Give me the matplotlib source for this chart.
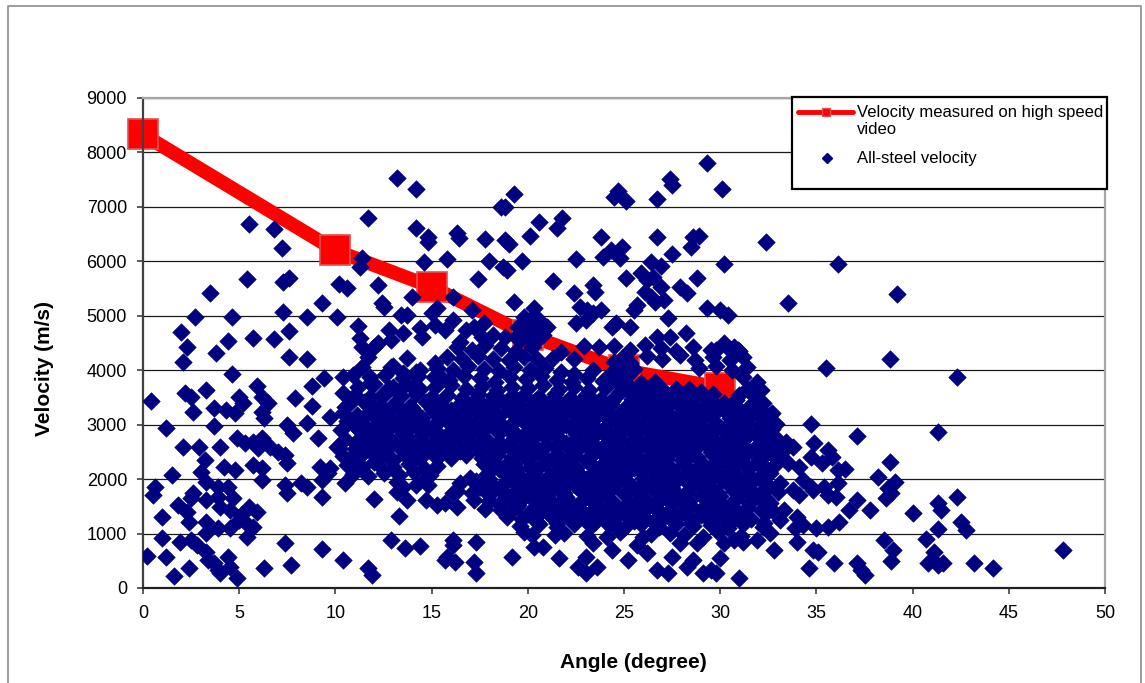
import matplotlib
matplotlib.use("Agg")
import matplotlib.pyplot as plt
from matplotlib.patches import Rectangle
from matplotlib.lines import Line2D

plt.rcParams['font.family'] = ['Liberation Sans', 'DejaVu Sans']

# ---------------- data ----------------
video_angle = [0, 10, 15, 20, 25, 30]
video_velocity = [8330, 6200, 5530, 4650, 4000, 3680]

x_ticks = [0, 5, 10, 15, 20, 25, 30, 35, 40, 45, 50]
y_ticks = [0, 1000, 2000, 3000, 4000, 5000, 6000, 7000, 8000, 9000]

# all-steel velocity points (angle, velocity), by region
pts_left = [
    (0.2, 590), (0.4, 3440), (0.6, 1860), (0.5, 1710), (1.2, 2940), (1.2, 570), (1.0, 1300), (1.0, 920),
    (1.5, 2080), (1.6, 220), (1.8, 1520), (1.9, 850), (2.0, 4700), (2.1, 4150), (2.3, 4430), (2.2, 3580),
    (2.5, 3510), (2.1, 2590), (2.3, 1400), (2.4, 1210), (2.4, 370), (2.5, 880), (2.5, 1650), (2.6, 1750),
    (2.6, 3230), (2.7, 4980), (2.8, 790), (2.9, 2590), (3.0, 2130), (3.2, 2350), (3.3, 3640), (3.3, 1950),
    (3.3, 1620), (3.3, 1210), (3.3, 1010), (3.3, 660), (3.4, 510), (3.5, 5420), (3.7, 3310), (3.7, 2980),
    (3.7, 460), (3.8, 4320), (3.9, 1860), (3.9, 1670), (3.9, 1100), (3.9, 330), (4.0, 2590), (4.0, 1490),
    (4.0, 280), (4.2, 2220), (4.3, 3270), (4.4, 4540), (4.4, 1860), (4.4, 570), (4.5, 1430), (4.5, 1100),
    (4.5, 390), (4.6, 4980), (4.6, 3930), (4.7, 1650), (4.8, 3210), (4.8, 2170), (4.9, 2760), (4.9, 180),
    (5.0, 3510), (5.0, 1250), (5.1, 1340), (5.2, 3400), (5.3, 2660), (5.3, 1210), (5.4, 5680), (5.4, 940),
    (5.5, 6690), (5.5, 1490), (5.7, 4590), (5.7, 2680), (5.7, 2260), (5.7, 1120), (5.9, 3710), (5.9, 1400),
    (6.0, 2570), (6.2, 3510), (6.2, 3230), (6.2, 2760), (6.2, 2200), (6.2, 1980), (6.3, 3120), (6.3, 370),
    (6.5, 3400), (6.6, 2590), (6.8, 6590), (6.8, 4570), (7.0, 2500), (7.2, 6250), (7.3, 5620), (7.3, 5070),
    (7.4, 2440), (7.4, 1890), (7.4, 830), (7.5, 2990), (7.5, 2300), (7.5, 1750), (7.6, 5690), (7.6, 4720),
    (7.6, 4240), (7.7, 420), (7.8, 2850), (7.9, 3490), (8.2, 1930), (8.5, 4980), (8.5, 4210), (8.5, 3030),
    (8.5, 1860), (8.8, 3710), (8.8, 3340), (9.1, 2760), (9.2, 2220), (9.3, 5240), (9.3, 1980), (9.3, 1670),
    (9.3, 720), (9.4, 3860), (9.6, 2110), (9.7, 3140), (9.7, 2200),
]

pts_mid = [
    (10.1, 2590), (10.1, 4980), (10.2, 5580), (10.4, 3880), (10.4, 3580), (10.4, 510), (10.5, 3330),
    (10.5, 1930), (10.6, 5510), (10.8, 2390), (10.9, 3910), (11.3, 2630), (11.2, 4810), (11.3, 4590),
    (11.4, 6060), (11.3, 5900), (11.4, 4060), (11.4, 4430), (11.7, 6800), (11.7, 4240), (11.7, 370),
    (11.8, 3770), (11.9, 240), (12.0, 4430), (12.0, 1630), (12.2, 4500), (12.2, 5570), (12.4, 3550),
    (12.4, 5240), (12.5, 5160), (12.8, 4740), (12.9, 4560), (12.9, 4060), (12.9, 880), (13.0, 3690),
    (13.2, 7530), (13.2, 1760), (13.3, 1320), (13.4, 5020), (13.5, 4680), (13.5, 3950), (13.5, 1860),
    (13.6, 730), (13.7, 5020), (13.7, 4230), (13.7, 1620), (14.0, 5350), (14.0, 3690), (14.2, 7330),
    (14.2, 6610), (14.2, 3970), (14.4, 4780), (14.4, 4000), (14.4, 770), (14.5, 4610), (14.6, 5990),
    (14.6, 1980), (14.7, 1620), (14.8, 6450), (14.8, 6360), (14.8, 1890), (15.0, 5050), (15.2, 4830),
    (15.2, 4130), (15.3, 5140), (15.3, 1520), (15.5, 3880), (15.7, 4740), (15.7, 1560), (15.7, 510),
    (15.8, 6040), (15.8, 570), (16.3, 6520), (16.4, 6420), (16.1, 5350), (16.1, 4920), (16.1, 880),
    (16.1, 790), (16.2, 480), (16.3, 1490), (16.1, 1750), (16.5, 4520), (16.8, 4740), (17.1, 5110),
    (17.2, 4790), (17.2, 480), (17.3, 850), (17.3, 280), (17.4, 5680), (17.6, 4610), (17.7, 4870),
    (17.8, 6410),
]

pts_upper = [
    (18.0, 6000), (18.2, 4650), (18.6, 7000), (18.8, 7000), (18.7, 5900), (18.8, 6390), (18.8, 4610),
    (18.9, 5840), (19.0, 6320), (19.3, 7240), (19.3, 5250), (19.4, 4610), (19.7, 6000), (19.8, 4980),
    (20.1, 6470), (20.1, 4920), (20.3, 5140), (20.6, 6720), (20.6, 4920), (21.0, 4790), (21.3, 5640),
    (21.5, 6610), (21.8, 6800), (22.4, 5420), (22.5, 6040), (22.5, 4870), (22.7, 5160), (23.0, 4920),
    (23.1, 5110), (23.4, 5570), (23.4, 5050), (23.5, 5440), (23.8, 6450), (23.8, 5110), (23.9, 6080),
    (24.3, 6210), (24.4, 4790), (24.5, 7180), (24.6, 4870), (24.7, 7290), (24.8, 6060), (24.9, 6260),
    (25.1, 7110), (25.1, 5690), (25.3, 4790), (25.5, 5110), (25.7, 5200), (25.9, 5790), (26.1, 5440),
    (26.2, 5660), (26.4, 5990), (26.4, 5350), (26.5, 5710), (26.6, 5250), (26.7, 7150), (26.7, 6450),
    (26.7, 4610), (26.9, 5920), (26.9, 5530), (27.1, 5290), (27.3, 4960), (27.4, 7510), (27.5, 7400),
    (27.4, 4610), (27.5, 6140), (27.9, 5530), (28.2, 4680), (28.3, 5420), (28.5, 6260), (28.6, 6450),
    (28.8, 5690), (28.9, 6470), (29.3, 7810), (29.3, 5140), (30.0, 5110), (30.1, 7330), (30.2, 5950),
    (30.2, 4500), (30.4, 5020), (30.7, 4430), (30.9, 4370), (29.8, 4370), (32.4, 6360), (33.5, 5240),
    (36.1, 5950), (39.2, 5400),
]

pts_on_line = [
    (19.5, 4790), (20.3, 4760), (19.6, 4560), (20.4, 4520), (19.9, 4660), (20.8, 4640),
    (22.9, 4450), (23.7, 4420), (24.5, 4150), (25.3, 4130), (24.4, 3970), (25.1, 3880),
    (24.9, 4030), (25.9, 3760), (26.6, 3790), (28.4, 3660), (29.0, 3600), (21.7, 4330),
    (22.4, 4200), (23.4, 4000), (24.6, 3870), (25.5, 4020), (25.1, 4230), (24.8, 3980),
    (26.1, 3700), (26.9, 3680), (27.7, 3660), (28.2, 3520), (27.3, 3480), (29.6, 3560),
]

core_upper = [
    (16.3, 4430), (17.1, 4370), (17.8, 4460), (18.6, 4400), (19.4, 4350), (20.2, 4420), (24.5, 4440),
    (25.3, 4380), (26.1, 4470), (26.9, 4400), (27.7, 4350), (28.6, 4430), (29.5, 4380), (30.3, 4450),
    (31.0, 4360),
    (15.8, 4240), (16.6, 4200), (17.4, 4270), (18.2, 4210), (19.0, 4180), (19.8, 4250), (20.5, 4200),
    (21.3, 4230), (24.9, 4220), (26.2, 4260), (27.0, 4210), (27.9, 4280), (28.7, 4190), (29.6, 4240),
    (30.5, 4180), (31.2, 4250),
    (13.0, 4080), (15.3, 4050), (16.1, 4000), (16.9, 4070), (17.7, 4030), (18.5, 3980), (19.3, 4060),
    (20.1, 4010), (20.9, 4040), (21.7, 3970), (22.4, 3930), (28.9, 4040), (29.8, 4080), (30.6, 4000),
    (31.4, 4060),
    (11.8, 3880), (12.6, 3920), (13.5, 3850), (14.3, 3900), (15.1, 3870), (15.9, 3820), (16.7, 3900),
    (17.5, 3850), (18.3, 3790), (19.1, 3870), (19.9, 3830), (20.7, 3890), (21.5, 3820), (22.3, 3790),
    (23.1, 3850), (23.9, 3800), (24.7, 3760), (25.3, 3700), (31.2, 3870), (31.9, 3780),
    (11.2, 3700), (12.0, 3740), (12.8, 3680), (13.6, 3720), (14.4, 3650), (15.2, 3700), (16.0, 3730),
    (16.8, 3660), (17.6, 3710), (18.4, 3640), (19.2, 3700), (20.0, 3670), (20.8, 3730), (21.6, 3650),
    (22.4, 3690), (23.2, 3630), (24.0, 3680), (24.8, 3600), (25.6, 3650), (26.3, 3580), (27.1, 3560),
    (27.9, 3590), (28.7, 3540), (31.4, 3650),
    (11.0, 3540), (11.8, 3500), (12.6, 3560), (13.4, 3520), (14.2, 3570), (15.0, 3500), (15.8, 3550),
    (16.6, 3490), (17.4, 3560), (18.2, 3520), (19.0, 3480), (19.8, 3550), (20.6, 3500), (21.4, 3560),
    (22.2, 3490), (23.0, 3540), (23.8, 3470), (24.6, 3530), (25.4, 3560), (26.2, 3500), (27.0, 3560),
    (27.8, 3520), (28.6, 3480), (29.4, 3440), (30.2, 3400), (31.0, 3540), (31.8, 3500),
    (10.7, 3380), (11.5, 3420), (12.3, 3360), (13.1, 3400), (13.9, 3340), (14.7, 3410), (15.5, 3370),
    (16.3, 3330), (17.1, 3400), (17.9, 3350), (18.7, 3410), (19.5, 3360), (20.3, 3320), (21.1, 3390),
    (21.9, 3350), (22.7, 3410), (23.5, 3340), (24.3, 3380), (25.1, 3330), (25.9, 3400), (26.7, 3350),
    (27.5, 3410), (28.3, 3360), (29.1, 3320), (29.9, 3330), (30.7, 3370), (31.5, 3330), (32.2, 3390),
]

core_lower = [
    (10.4, 3220), (11.1, 3180), (11.9, 3250), (12.7, 3200), (13.5, 3240), (14.3, 3170), (15.1, 3230),
    (15.9, 3190), (16.7, 3250), (17.5, 3180), (18.3, 3220), (19.1, 3260), (19.9, 3190), (20.7, 3230),
    (21.5, 3170), (22.3, 3240), (23.1, 3200), (23.9, 3250), (24.7, 3180), (25.5, 3220), (26.3, 3170),
    (27.1, 3240), (27.9, 3200), (28.7, 3260), (29.5, 3190), (30.3, 3230), (31.1, 3170), (31.9, 3240),
    (32.6, 3180),
    (10.6, 3060), (11.4, 3030), (12.2, 3090), (13.0, 3040), (13.8, 3080), (14.6, 3020), (15.4, 3070),
    (16.2, 3100), (17.0, 3030), (17.8, 3070), (18.6, 3010), (19.4, 3080), (20.2, 3040), (21.0, 3090),
    (21.8, 3020), (22.6, 3060), (23.4, 3000), (24.2, 3080), (25.0, 3030), (25.8, 3090), (26.6, 3020),
    (27.4, 3070), (28.2, 3040), (29.0, 3100), (29.8, 3020), (30.6, 3070), (31.4, 3030), (32.2, 3080),
    (32.9, 3010),
    (10.3, 2900), (11.1, 2940), (11.9, 2870), (12.7, 2920), (13.5, 2860), (14.3, 2930), (15.1, 2880),
    (15.9, 2850), (16.7, 2920), (17.5, 2870), (18.3, 2940), (19.1, 2880), (19.9, 2850), (20.7, 2920),
    (21.5, 2880), (22.3, 2940), (23.1, 2860), (23.9, 2910), (24.7, 2870), (25.5, 2940), (26.3, 2880),
    (27.1, 2850), (27.9, 2920), (28.7, 2870), (29.5, 2930), (30.3, 2860), (31.1, 2910), (31.9, 2850),
    (32.7, 2920),
    (10.5, 2740), (11.3, 2700), (12.1, 2760), (12.9, 2720), (13.7, 2780), (14.5, 2700), (15.3, 2750),
    (16.1, 2710), (16.9, 2770), (17.7, 2720), (18.5, 2690), (19.3, 2760), (20.1, 2720), (20.9, 2780),
    (21.7, 2700), (22.5, 2740), (23.3, 2690), (24.1, 2770), (24.9, 2720), (25.7, 2760), (26.5, 2700),
    (27.3, 2750), (28.1, 2710), (28.9, 2770), (29.7, 2720), (30.5, 2680), (31.3, 2750), (32.1, 2710),
    (32.9, 2760), (33.4, 2680),
    (10.2, 2580), (11.0, 2550), (11.8, 2610), (12.6, 2560), (13.4, 2600), (14.2, 2540), (15.0, 2590),
    (15.8, 2620), (16.6, 2560), (17.4, 2600), (18.2, 2540), (19.0, 2610), (19.8, 2570), (20.6, 2530),
    (21.4, 2600), (22.2, 2560), (23.0, 2620), (23.8, 2550), (24.6, 2590), (25.4, 2540), (26.2, 2610),
    (27.0, 2560), (27.8, 2600), (28.6, 2530), (29.4, 2590), (30.2, 2550), (31.0, 2610), (31.8, 2560),
    (32.6, 2600), (33.3, 2530),
    (10.4, 2420), (11.2, 2380), (12.0, 2440), (12.8, 2400), (13.6, 2450), (14.4, 2390), (15.2, 2430),
    (16.0, 2380), (16.8, 2440), (17.6, 2390), (18.4, 2450), (19.2, 2400), (20.0, 2370), (20.8, 2430),
    (21.6, 2390), (22.4, 2450), (23.2, 2380), (24.0, 2420), (24.8, 2460), (25.6, 2390), (26.4, 2430),
    (27.2, 2370), (28.0, 2440), (28.8, 2400), (29.6, 2450), (30.4, 2380), (31.2, 2420), (32.0, 2370),
    (32.8, 2430),
    (10.6, 2260), (11.4, 2220), (12.2, 2280), (13.0, 2230), (13.8, 2270), (14.6, 2210), (15.3, 2250),
    (17.7, 2280), (18.5, 2230), (19.3, 2270), (20.1, 2220), (20.9, 2290), (21.7, 2240), (22.5, 2200),
    (23.3, 2270), (24.1, 2230), (24.9, 2290), (25.7, 2220), (26.5, 2260), (27.3, 2210), (28.1, 2280),
    (28.9, 2230), (29.7, 2270), (30.5, 2210), (31.3, 2260), (32.1, 2220), (32.9, 2280),
    (10.9, 2100), (11.7, 2060), (12.5, 2120), (13.3, 2080), (14.1, 2130), (14.9, 2070), (17.9, 2090),
    (18.7, 2130), (19.5, 2070), (20.3, 2110), (21.1, 2050), (21.9, 2120), (22.7, 2080), (23.5, 2130),
    (24.3, 2060), (25.1, 2100), (25.9, 2140), (26.7, 2070), (27.5, 2110), (28.3, 2060), (29.1, 2120),
    (29.9, 2080), (30.7, 2130), (31.5, 2070), (32.3, 2110),
    (13.2, 1950), (14.2, 1900), (16.5, 1930), (17.3, 1970), (18.1, 1910), (18.9, 1960), (19.7, 1900),
    (20.5, 1940), (21.3, 1980), (22.1, 1920), (22.9, 1960), (23.7, 1900), (24.5, 1950), (25.3, 1910),
    (26.1, 1970), (26.9, 1920), (27.7, 1960), (28.5, 1900), (29.3, 1940), (30.1, 1980), (30.9, 1920),
    (31.7, 1960), (32.5, 1900),
    (16.3, 1780), (17.1, 1750), (17.9, 1800), (18.7, 1760), (19.5, 1810), (20.3, 1740), (21.1, 1790),
    (21.9, 1750), (22.7, 1800), (23.5, 1760), (24.3, 1820), (25.1, 1750), (25.9, 1790), (26.7, 1740),
    (27.5, 1800), (28.3, 1760), (29.1, 1810), (29.9, 1740), (30.7, 1790), (31.5, 1750), (32.3, 1800),
    (33.0, 1760),
    (17.2, 1620), (18.0, 1590), (18.8, 1640), (19.6, 1600), (20.4, 1650), (21.2, 1580), (22.0, 1630),
    (22.8, 1590), (23.6, 1640), (24.4, 1600), (25.2, 1570), (26.0, 1630), (26.8, 1590), (27.6, 1650),
    (28.4, 1600), (29.2, 1640), (30.0, 1580), (30.8, 1630), (31.6, 1590), (32.4, 1640),
    (17.8, 1460), (18.6, 1430), (19.4, 1480), (20.2, 1440), (21.0, 1490), (21.8, 1420), (22.6, 1470),
    (23.4, 1430), (24.2, 1480), (25.0, 1440), (25.8, 1410), (26.6, 1470), (27.4, 1430), (28.2, 1490),
    (29.0, 1440), (29.8, 1480), (30.6, 1420), (31.4, 1470), (32.1, 1430),
    (18.9, 1300), (19.7, 1270), (20.5, 1320), (21.3, 1280), (22.1, 1330), (22.9, 1260), (23.7, 1310),
    (24.5, 1270), (25.3, 1320), (26.1, 1280), (26.9, 1250), (27.7, 1310), (28.5, 1270), (29.3, 1320),
    (30.1, 1280), (30.9, 1310), (31.6, 1260),
    (19.6, 1140), (20.6, 1170), (21.5, 1120), (22.4, 1180), (23.3, 1130), (24.2, 1160), (25.0, 1100),
    (25.9, 1170), (26.8, 1120), (27.7, 1180), (28.6, 1130), (29.5, 1160), (30.4, 1110), (31.2, 1170),
    (20.2, 980), (21.9, 1010), (23.1, 960), (24.8, 1020), (26.4, 990), (28.1, 970), (29.9, 1020),
    (31.1, 960),
]

core_fill_upper = [
    (17.4, 3460), (18.4, 3430), (19.4, 3480), (20.4, 3440), (21.4, 3470), (22.4, 3420), (23.4, 3460),
    (24.4, 3440), (25.4, 3480), (26.4, 3430), (27.4, 3460), (28.4, 3420), (30.8, 3450),
    (12.0, 3300), (13.0, 3280), (14.0, 3310), (15.0, 3290), (16.0, 3270), (17.0, 3310), (18.0, 3290),
    (19.0, 3320), (20.0, 3280), (21.0, 3300), (22.0, 3270), (23.0, 3310), (24.0, 3290), (25.0, 3260),
    (26.0, 3300), (27.0, 3280), (28.0, 3310), (29.0, 3270), (30.0, 3300), (31.0, 3280), (32.0, 3300),
    (11.5, 3140), (12.5, 3120), (13.5, 3150), (14.5, 3130), (15.5, 3110), (16.5, 3150), (17.5, 3130),
    (18.5, 3160), (19.5, 3120), (20.5, 3140), (21.5, 3110), (22.5, 3150), (23.5, 3130), (24.5, 3100),
    (25.5, 3140), (26.5, 3120), (27.5, 3150), (28.5, 3110), (29.5, 3140), (30.5, 3120), (31.5, 3150),
    (32.5, 3130),
    (11.0, 2980), (12.0, 2960), (13.0, 2990), (14.0, 2970), (15.0, 2950), (16.0, 2990), (17.0, 2970),
    (18.0, 3000), (19.0, 2960), (20.0, 2980), (21.0, 2950), (22.0, 2990), (23.0, 2970), (24.0, 2940),
    (25.0, 2980), (26.0, 2960), (27.0, 2990), (28.0, 2950), (29.0, 2980), (30.0, 2960), (31.0, 2990),
    (32.0, 2970),
    (11.5, 2820), (12.5, 2800), (13.5, 2830), (14.5, 2810), (15.5, 2790), (16.5, 2830), (17.5, 2810),
    (18.5, 2840), (19.5, 2800), (20.5, 2820), (21.5, 2790), (22.5, 2830), (23.5, 2810), (24.5, 2780),
    (25.5, 2820), (26.5, 2800), (27.5, 2830), (28.5, 2790), (29.5, 2820), (30.5, 2800), (31.5, 2830),
    (32.5, 2810),
    (11.0, 2660), (12.0, 2640), (13.0, 2670), (14.0, 2650), (15.0, 2630), (16.0, 2670), (17.0, 2650),
    (18.0, 2680), (19.0, 2640), (20.0, 2660), (21.0, 2630), (22.0, 2670), (23.0, 2650), (24.0, 2620),
    (25.0, 2660), (26.0, 2640), (27.0, 2670), (28.0, 2630), (29.0, 2660), (30.0, 2640), (31.0, 2670),
    (32.0, 2650), (33.0, 2620),
]

core_fill_lower = [
    (11.5, 2500), (12.5, 2480), (13.5, 2510), (14.5, 2490), (15.5, 2470), (16.5, 2510), (17.5, 2490),
    (18.5, 2520), (19.5, 2480), (20.5, 2500), (21.5, 2470), (22.5, 2510), (23.5, 2490), (24.5, 2460),
    (25.5, 2500), (26.5, 2480), (27.5, 2510), (28.5, 2470), (29.5, 2500), (30.5, 2480), (31.5, 2510),
    (32.5, 2490),
    (11.0, 2340), (12.0, 2320), (13.0, 2350), (14.0, 2330), (18.0, 2340), (19.0, 2320), (20.0, 2350),
    (21.0, 2310), (22.0, 2340), (23.0, 2360), (24.0, 2320), (25.0, 2350), (26.0, 2330), (27.0, 2310),
    (28.0, 2350), (29.0, 2320), (30.0, 2340), (31.0, 2360), (32.0, 2330),
    (18.5, 2180), (19.5, 2160), (20.5, 2190), (21.5, 2170), (22.5, 2150), (23.5, 2190), (24.5, 2170),
    (25.5, 2200), (26.5, 2160), (27.5, 2180), (28.5, 2150), (29.5, 2190), (30.5, 2170), (31.5, 2200),
    (32.5, 2160),
    (17.0, 2020), (18.0, 2000), (19.0, 2030), (20.0, 2010), (21.0, 1990), (22.0, 2030), (23.0, 2010),
    (24.0, 2040), (25.0, 2000), (26.0, 2020), (27.0, 1990), (28.0, 2030), (29.0, 2010), (30.0, 2040),
    (31.0, 2000), (32.0, 2020),
    (17.5, 1860), (18.5, 1840), (19.5, 1870), (20.5, 1850), (21.5, 1830), (22.5, 1870), (23.5, 1850),
    (24.5, 1880), (25.5, 1840), (26.5, 1860), (27.5, 1830), (28.5, 1870), (29.5, 1850), (30.5, 1880),
    (31.5, 1840), (32.5, 1860),
    (18.0, 1700), (19.0, 1680), (20.0, 1710), (21.0, 1690), (22.0, 1670), (23.0, 1710), (24.0, 1690),
    (25.0, 1720), (26.0, 1680), (27.0, 1700), (28.0, 1670), (29.0, 1710), (30.0, 1690), (31.0, 1720),
    (32.0, 1680),
    (18.5, 1540), (19.5, 1520), (20.5, 1550), (21.5, 1530), (22.5, 1510), (23.5, 1550), (24.5, 1530),
    (25.5, 1560), (26.5, 1520), (27.5, 1540), (28.5, 1510), (29.5, 1550), (30.5, 1530), (31.5, 1560),
    (19.0, 1380), (20.0, 1360), (21.0, 1390), (22.0, 1370), (23.0, 1350), (24.0, 1390), (25.0, 1370),
    (26.0, 1400), (27.0, 1360), (28.0, 1380), (29.0, 1350), (30.0, 1390), (31.0, 1370),
    (20.5, 1220), (21.5, 1200), (22.5, 1230), (23.5, 1210), (24.5, 1190), (25.5, 1230), (26.5, 1210),
    (27.5, 1240), (28.5, 1200), (29.5, 1220), (30.5, 1190),
]

pts_low = [
    (19.2, 570), (19.8, 1030), (20.3, 750), (20.8, 750), (21.4, 970), (21.6, 550), (22.6, 390),
    (23.0, 280), (23.0, 570), (23.6, 390), (23.4, 830), (24.1, 940), (24.4, 700), (25.2, 510),
    (25.7, 790), (26.0, 940), (26.2, 640), (26.7, 330), (27.3, 280), (27.5, 570), (27.4, 1010),
    (27.9, 830), (28.3, 390), (28.6, 510), (29.1, 280), (29.5, 330), (29.8, 280), (28.8, 830),
    (29.1, 940), (30.0, 550), (30.2, 830), (30.7, 880), (31.2, 850), (31.0, 180), (31.9, 880),
    (32.2, 1120),
]

pts_right = [
    (31.8, 3640), (32.1, 3640), (32.7, 3210), (32.5, 3030), (32.4, 2900), (32.7, 2760), (32.2, 2540),
    (33.0, 2350), (33.5, 2300), (32.6, 2110), (33.1, 1930), (34.1, 2220), (34.3, 1980), (34.7, 1860),
    (33.8, 1800), (34.1, 1710), (34.8, 1800), (35.4, 1860), (36.1, 1930), (35.6, 1710), (36.0, 1670),
    (32.1, 1750), (32.6, 1560), (32.4, 1380), (32.7, 1430), (33.1, 1250), (33.3, 1430), (32.3, 1190),
    (32.6, 1010), (33.8, 2590), (34.9, 2660), (34.7, 2410), (35.6, 2540), (35.8, 2410), (35.3, 2300),
    (36.5, 2190), (36.1, 2170), (34.7, 3010), (37.1, 2790), (41.3, 2870), (38.8, 4210), (35.5, 4040),
    (42.3, 3880), (38.8, 2320), (38.2, 2040), (39.1, 1950), (38.7, 1840), (38.9, 1750), (38.6, 1650),
    (34.0, 1300), (33.9, 1100), (34.3, 1160), (35.0, 1100), (35.6, 1120), (36.2, 1210), (36.7, 1430),
    (37.1, 1620), (37.8, 1430), (32.8, 700), (34.0, 850), (34.8, 700), (35.1, 660), (34.6, 370),
    (35.9, 460), (37.1, 460), (37.3, 330), (37.5, 240), (38.5, 880), (39.0, 700), (38.9, 500),
    (40.0, 1380), (41.3, 1560), (41.5, 1430), (41.3, 1080), (40.7, 900), (42.3, 1670), (42.5, 1210),
    (42.8, 1070), (41.1, 660), (40.8, 460), (41.3, 420), (41.6, 460), (43.2, 460), (44.2, 370),
    (47.8, 700),
]

all_steel = (pts_left + pts_mid + pts_upper + pts_on_line + core_upper + core_lower
             + core_fill_upper + core_fill_lower + pts_low + pts_right)
steel_angle = [p[0] for p in all_steel]
steel_velocity = [p[1] for p in all_steel]

# ---------------- figure ----------------
W, H = 1145, 683
fig = plt.figure(figsize=(W / 100, H / 100), dpi=100)
fig.patch.set_facecolor('white')

ax = fig.add_axes([143 / W, 1 - 588 / H, (1105 - 143) / W, (588 - 98) / H])
ax.set_xlim(0, 50)
ax.set_ylim(0, 9000)
ax.set_xticks(x_ticks)
ax.set_yticks(y_ticks)
ax.set_xticklabels([str(t) for t in x_ticks])
ax.set_yticklabels([str(t) for t in y_ticks])

ax.yaxis.grid(True, color='#1a1a1a', linewidth=0.9)
ax.set_axisbelow(True)

for side in ['top', 'right']:
    ax.spines[side].set_color('#a6a6a6')
    ax.spines[side].set_linewidth(1.6)
ax.spines['left'].set_color('#404040')
ax.spines['left'].set_linewidth(1.6)
ax.spines['bottom'].set_color('#202020')
ax.spines['bottom'].set_linewidth(1.6)

ax.tick_params(axis='both', direction='out', length=4.5, width=1.1, color='#303030',
               labelsize=13, labelcolor='black')
ax.tick_params(axis='x', pad=8)
ax.tick_params(axis='y', pad=7)

ax.plot(video_angle, video_velocity, color='#ff0000', linewidth=10, solid_joinstyle='round',
        marker='s', markersize=21, markerfacecolor='#ff0000', markeredgecolor='#e05050',
        markeredgewidth=1.2, zorder=2, clip_on=False)

ax.scatter(steel_angle, steel_velocity, marker='D', s=80, color='#000080',
           edgecolors='#000080', linewidths=0.4, zorder=3)

ax.set_xlabel('Angle (degree)', fontsize=15, fontweight='bold')
ax.set_ylabel('Velocity (m/s)', fontsize=15, fontweight='bold')
ax.xaxis.set_label_coords((633 - 143) / 962, (588 - 662) / 490)
ax.xaxis.label.set_va('center')
ax.yaxis.set_label_coords((45 - 143) / 962, (588 - 368) / 490)
ax.yaxis.label.set_va('center')

# legend box (drawn by hand to match the original frame)
def fx(px):
    return px / W

def fy(py):
    return 1 - py / H

fig.add_artist(Rectangle((fx(792), fy(189)), fx(1107) - fx(792), fy(97) - fy(189),
                         transform=fig.transFigure, facecolor='white', edgecolor='black',
                         linewidth=1.6, zorder=10))
fig.add_artist(Line2D([fx(798), fx(853)], [fy(112), fy(112)], transform=fig.transFigure,
                      color='#ff0000', linewidth=3.5, solid_capstyle='round', zorder=11))
fig.add_artist(Line2D([fx(826)], [fy(112)], transform=fig.transFigure, marker='s',
                      markersize=6, markerfacecolor='#ff0000', markeredgecolor='#e05050',
                      linestyle='none', zorder=12))
fig.add_artist(Line2D([fx(827)], [fy(158)], transform=fig.transFigure, marker='D',
                      markersize=5, markerfacecolor='#000080', markeredgecolor='#000080',
                      linestyle='none', zorder=12))
fig.text(fx(857), fy(112), 'Velocity measured on high speed', fontsize=12, va='center',
         ha='left', zorder=12)
fig.text(fx(857), fy(130), 'video', fontsize=12, va='center', ha='left', zorder=12)
fig.text(fx(857), fy(158), 'All-steel velocity', fontsize=12, va='center', ha='left', zorder=12)

# outer chart frame
frame_kw = dict(transform=fig.transFigure, color='#8c8c8c', linewidth=1.2, zorder=1)
fig.add_artist(Line2D([fx(7.5), fx(7.5), fx(1140.5), fx(1140.5)],
                      [0, fy(5.5), fy(5.5), 0], **frame_kw))

fig.savefig('out.png', dpi=100, facecolor='white')
